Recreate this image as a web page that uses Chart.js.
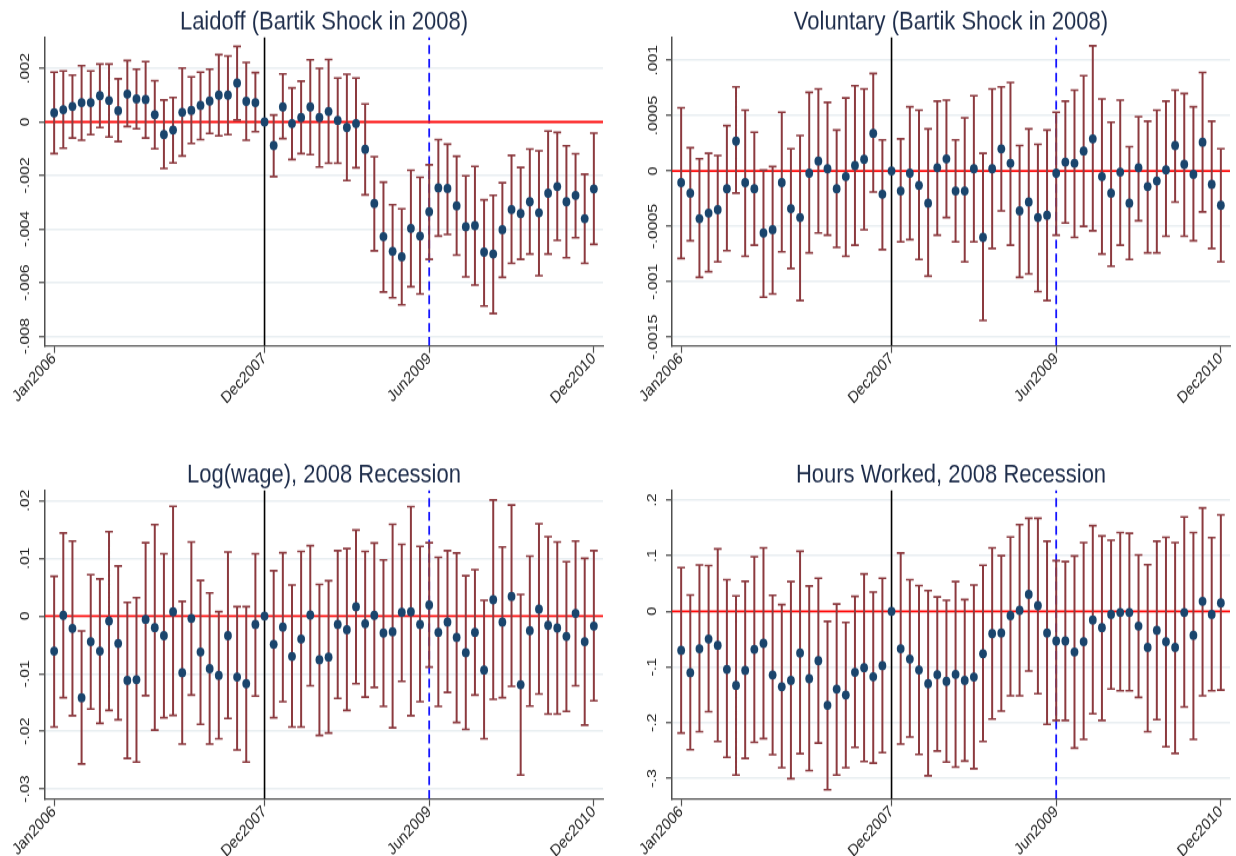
<!DOCTYPE html>
<html>
<head>
<meta charset="utf-8">
<title>Monthly event-study estimates, 2006-2010</title>
<script src="https://cdn.jsdelivr.net/npm/chart.js@4.4.1/dist/chart.umd.min.js"></script>
<style>
  html, body { margin: 0; padding: 0; background: #ffffff; }
  #page { position: relative; width: 1236px; height: 856px; overflow: hidden; background: #ffffff; }
  #page canvas { position: absolute; }
</style>
</head>
<body>
<div id="page">
  <canvas id="laidoff"></canvas>
  <canvas id="voluntary"></canvas>
  <canvas id="wage"></canvas>
  <canvas id="hours"></canvas>
</div>
<script>
// ---- months: 0 = Jan2006 ... 59 = Dec2010 (Dec2007 is the omitted base month) ----
const months = Array.from({ length: 60 }, (_, i) => i);
const xTickMonths = [0, 23, 41, 59];
const xTickLabels = ['Jan2006', 'Dec2007', 'Jun2009', 'Dec2010'];
const recessionStartMonth = 23;   // Dec2007
const recessionEndMonth = 41;     // Jun2009
const baselineValue = 0;

// ---- Laidoff (Bartik shock in 2008) ----
const laidoffEst = [
  0.00034, 0.00046, 0.00058, 0.00072, 0.00072, 0.00098, 0.0008, 0.00042, 0.00104, 0.00086, 0.00084, 0.00027,
  -0.00047, -0.0003, 0.00036, 0.00043, 0.00062, 0.00078, 0.001, 0.001, 0.00145, 0.00077, 0.00072, 0,
  -0.00088, 0.00056, -0.00006, 0.00017, 0.00056, 0.00017, 0.00039, 0.00006, -0.00021, -0.00006, -0.00102, -0.00304,
  -0.00428, -0.00483, -0.00503, -0.00397, -0.00426, -0.00335, -0.00246, -0.00248, -0.00313, -0.00391, -0.00387, -0.00486,
  -0.00493, -0.00402, -0.00327, -0.00342, -0.00298, -0.00339, -0.00266, -0.00241, -0.00298, -0.00274, -0.00361, -0.0025
];
const laidoffHi = [
  0.00186, 0.0019, 0.00175, 0.0021, 0.0019, 0.00216, 0.00216, 0.00161, 0.00229, 0.00197, 0.00225, 0.00154,
  0.00082, 0.00091, 0.00201, 0.00168, 0.00186, 0.00197, 0.00251, 0.00246, 0.00282, 0.00222, 0.00184, null,
  0.00026, 0.00179, 0.00127, 0.00152, 0.00232, 0.002, 0.00233, 0.00164, 0.00178, 0.00164, 0.00067, -0.0013,
  -0.00225, -0.00309, -0.00324, -0.0018, -0.00207, -0.0016, -0.00066, -0.00083, -0.00128, -0.00201, -0.00166, -0.00291,
  -0.00274, -0.00227, -0.00125, -0.0017, -0.00101, -0.00108, -0.00034, -0.00039, -0.00089, -0.00119, -0.00195, -0.00042
];
const laidoffLo = [
  -0.00118, -0.00098, -0.0006, -0.00068, -0.00047, -0.00021, -0.00056, -0.00073, -0.00017, -0.00025, -0.0006, -0.001,
  -0.00174, -0.00153, -0.00127, -0.0008, -0.00066, -0.00043, -0.00052, -0.00047, 0.00007, -0.00068, -0.00036, null,
  -0.00204, -0.00062, -0.0014, -0.00118, -0.00122, -0.00168, -0.00154, -0.00154, -0.00219, -0.00171, -0.00272, -0.00481,
  -0.00635, -0.00656, -0.00683, -0.00615, -0.00642, -0.00513, -0.00426, -0.0042, -0.00497, -0.00578, -0.00609, -0.00687,
  -0.00715, -0.0058, -0.00528, -0.00513, -0.00493, -0.00574, -0.00493, -0.00442, -0.00507, -0.00432, -0.00528, -0.00457
];
const laidoffTicks = [-0.008, -0.006, -0.004, -0.002, 0, 0.002];

// ---- Voluntary separations (Bartik shock in 2008) ----
const voluntaryEst = [
  -0.000105, -0.0002, -0.00043, -0.00038, -0.00035, -0.00016, 0.00027, -0.000105, -0.00016, -0.00056, -0.00053, -0.000105,
  -0.00034, -0.00042, -0.00002, 0.00009, 0.00002, -0.00016, -0.00005, 0.00005, 0.000105, 0.00034, -0.00021, 0,
  -0.00018, -0.00002, -0.00013, -0.00029, 0.00003, 0.00011, -0.00018, -0.00018, 0.00002, -0.0006, 0.00002, 0.0002,
  0.00007, -0.00036, -0.00028, -0.00042, -0.0004, -0.00002, 0.00008, 0.00007, 0.00018, 0.00029, -0.00005, -0.0002,
  -0.00001, -0.00029, 0.00003, -0.00014, -0.00009, 0.00001, 0.00023, 0.00006, -0.00003, 0.00026, -0.00012, -0.00031
];
const voluntaryHi = [
  0.00057, 0.00021, 0.00011, 0.00016, 0.00014, 0.00041, 0.00076, 0.00055, 0.00035, 0.00001, 0.00004, 0.00053,
  0.0002, 0.00032, 0.00071, 0.00074, 0.00062, 0.00037, 0.00066, 0.00077, 0.00074, 0.00088, 0.00028, null,
  0.00029, 0.00058, 0.00055, 0.00038, 0.00063, 0.00064, 0.00028, 0.00048, 0.00068, 0.00016, 0.00074, 0.00076,
  0.0008, 0.00023, 0.00038, 0.00024, 0.00037, 0.00053, 0.00063, 0.00073, 0.00086, 0.00113, 0.00065, 0.00044,
  0.00064, 0.00022, 0.00049, 0.00045, 0.00055, 0.00063, 0.00073, 0.0007, 0.00058, 0.00089, 0.00045, 0.0002
];
const voluntaryLo = [
  -0.00079, -0.00063, -0.00096, -0.00091, -0.00082, -0.00072, -0.0002, -0.00077, -0.00067, -0.00114, -0.00111, -0.00073,
  -0.00088, -0.00117, -0.00074, -0.00056, -0.00058, -0.00069, -0.00077, -0.00067, -0.00053, -0.00019, -0.00071, null,
  -0.00064, -0.00062, -0.0008, -0.00095, -0.00058, -0.00042, -0.00064, -0.00082, -0.00064, -0.00135, -0.0007, -0.00036,
  -0.00067, -0.00096, -0.00093, -0.00109, -0.00117, -0.00058, -0.00047, -0.0006, -0.0005, -0.00054, -0.00075, -0.00086,
  -0.00067, -0.0008, -0.00045, -0.00074, -0.00074, -0.00059, -0.00028, -0.00059, -0.00063, -0.00037, -0.0007, -0.00082
];
const voluntaryTicks = [-0.0015, -0.001, -0.0005, 0, 0.0005, 0.001];

// ---- Log(wage), 2008 recession ----
const wageEst = [
  -0.00607, 0.00012, -0.00214, -0.01416, -0.00445, -0.00607, -0.00087, -0.00474, -0.01116, -0.01104, -0.00058, -0.00202,
  -0.00341, 0.00075, -0.00983, -0.0004, -0.00624, -0.00913, -0.01029, -0.00341, -0.01058, -0.01173, -0.00145, 0,
  -0.00491, -0.00191, -0.00699, -0.00399, 0.00017, -0.00757, -0.00711, -0.00145, -0.00237, 0.00162, -0.00133, 0.00012,
  -0.00295, -0.00272, 0.00064, 0.00075, -0.00145, 0.00191, -0.00283, -0.00104, -0.0037, -0.00636, -0.00283, -0.00936,
  0.00283, -0.00104, 0.00341, -0.01191, -0.00254, 0.00121, -0.00162, -0.00208, -0.00353, 0.00046, -0.00445, -0.00173
];
const wageHi = [
  0.00688, 0.0144, 0.013, -0.0026, 0.00717, 0.00642, 0.01462, 0.00867, 0.00237, 0.00318, 0.01272, 0.01584,
  0.01081, 0.01902, 0.00254, 0.01283, 0.00618, 0.00399, 0.00075, 0.0111, 0.00162, 0.00162, 0.01081, null,
  0.00786, 0.01098, 0.00538, 0.01121, 0.0122, 0.00549, 0.00613, 0.01133, 0.01168, 0.01491, 0.01121, 0.01266,
  0.00971, 0.01589, 0.01243, 0.01896, 0.01208, 0.01272, 0.01017, 0.01133, 0.01092, 0.00699, 0.00803, 0.00272,
  0.02011, 0.01196, 0.01925, 0.00376, 0.0104, 0.01601, 0.01376, 0.01283, 0.00942, 0.013, 0.01, 0.01133
];
const wageLo = [
  -0.01925, -0.01416, -0.01728, -0.02566, -0.01613, -0.01861, -0.01636, -0.01798, -0.02468, -0.02532, -0.01381, -0.01977,
  -0.01763, -0.01722, -0.0222, -0.0137, -0.01879, -0.0222, -0.02127, -0.01775, -0.02324, -0.02532, -0.01387, null,
  -0.01763, -0.01485, -0.01925, -0.01925, -0.01208, -0.02069, -0.02029, -0.01428, -0.01636, -0.01173, -0.01405, -0.01237,
  -0.01566, -0.01936, -0.01133, -0.01728, -0.01485, -0.00884, -0.01566, -0.01324, -0.01844, -0.01965, -0.0137, -0.02127,
  -0.01445, -0.01416, -0.0122, -0.02757, -0.01561, -0.01353, -0.01699, -0.01699, -0.01653, -0.01208, -0.0189, -0.01468
];
const wageTicks = [-0.03, -0.02, -0.01, 0, 0.01, 0.02];

// ---- Hours worked, 2008 recession ----
const hoursEst = [
  -0.0701, -0.1102, -0.0671, -0.0497, -0.0611, -0.1042, -0.133, -0.106, -0.0683, -0.0575, -0.1144, -0.1354,
  -0.124, -0.0749, -0.121, -0.0887, -0.1689, -0.1396, -0.1503, -0.1096, -0.1012, -0.1174, -0.0976, 0,
  -0.0671, -0.0857, -0.1054, -0.13, -0.1138, -0.1258, -0.1132, -0.124, -0.118, -0.0761, -0.0401, -0.0389,
  -0.0078, 0.0018, 0.0305, 0.0102, -0.0389, -0.0533, -0.0533, -0.0731, -0.0545, -0.0156, -0.0294, -0.0054,
  -0.002, -0.002, -0.0264, -0.0647, -0.0341, -0.0545, -0.0647, -0.002, -0.0431, 0.018, -0.0054, 0.015
];
const hoursHi = [
  0.0785, 0.0294, 0.0833, 0.0821, 0.112, 0.0569, 0.0276, 0.0539, 0.0982, 0.1138, 0.0288, 0.012,
  0.0533, 0.1078, 0.0455, 0.0593, -0.018, 0.0132, -0.0198, 0.027, 0.0671, 0.0347, 0.0593, null,
  0.1048, 0.0569, 0.0461, 0.0371, 0.0258, 0.0198, 0.0533, 0.021, 0.0473, 0.0827, 0.1138, 0.1,
  0.1336, 0.1557, 0.1671, 0.1671, 0.1258, 0.091, 0.0893, 0.0994, 0.1234, 0.1539, 0.1354, 0.1276,
  0.1414, 0.1402, 0.1012, 0.0839, 0.1258, 0.133, 0.1234, 0.1695, 0.1414, 0.1857, 0.1324, 0.1731
];
const hoursLo = [
  -0.2186, -0.2486, -0.2162, -0.1803, -0.2336, -0.2624, -0.2941, -0.2642, -0.2354, -0.2288, -0.2576, -0.2809,
  -0.3007, -0.2558, -0.2863, -0.2366, -0.3205, -0.2941, -0.2809, -0.2444, -0.2696, -0.2726, -0.254, null,
  -0.2384, -0.2258, -0.257, -0.2953, -0.251, -0.2708, -0.2798, -0.269, -0.2828, -0.2336, -0.1935, -0.1791,
  -0.1516, -0.1516, -0.1072, -0.148, -0.2031, -0.1959, -0.1959, -0.2456, -0.23, -0.1839, -0.1959, -0.1396,
  -0.1426, -0.1426, -0.1546, -0.2162, -0.1947, -0.2432, -0.2552, -0.1719, -0.23, -0.1516, -0.1426, -0.1414
];
const hoursTicks = [-0.3, -0.2, -0.1, 0, 0.1, 0.2];

// ---- styling ----
const FONT = '"Liberation Sans", Arial, Helvetica, sans-serif';
const TITLE_COLOR = '#1e2d4b';
const TEXT_COLOR = '#1e1e1e';
const AXIS_COLOR = '#505050';
const GRID_COLOR = '#e8eef1';
const CI_COLOR = '#8c3a3f';
const DOT_COLOR = '#1a456d';
const ZERO_COLOR = '#ff0a0a';
const START_COLOR = '#000000';
const END_COLOR = '#1414ff';

// Canvases are drawn at a reduced height and displayed taller, giving the
// tall, narrow lettering and steeper label angle of the figure.
const STRETCH = 1.1784;
const PLOT_TOP = 37 / STRETCH;      // drawing units inside each canvas
const PLOT_BOTTOM = 346 / STRETCH;

const panels = [
  { id: 'laidoff', title: 'Laidoff (Bartik Shock in 2008)', est: laidoffEst, lo: laidoffLo, hi: laidoffHi,
    ticks: laidoffTicks, yMin: -0.00836, yMax: 0.00317,
    left: 0, top: 0, width: 620, innerH: 382, plotLeft: 45, plotRight: 603, labelPad: -1.5 },
  { id: 'voluntary', title: 'Voluntary (Bartik Shock in 2008)', est: voluntaryEst, lo: voluntaryLo, hi: voluntaryHi,
    ticks: voluntaryTicks, yMin: -0.00158, yMax: 0.00121,
    left: 626, top: 0, width: 610, innerH: 382, plotLeft: 46, plotRight: 604, labelPad: -6.5 },
  { id: 'wage', title: 'Log(wage), 2008 Recession', est: wageEst, lo: wageLo, hi: wageHi,
    ticks: wageTicks, yMin: -0.03173, yMax: 0.02185,
    left: 0, top: 453, width: 620, innerH: 342, plotLeft: 45, plotRight: 603, labelPad: 2.5 },
  { id: 'hours', title: 'Hours Worked, 2008 Recession', est: hoursEst, lo: hoursLo, hi: hoursHi,
    ticks: hoursTicks, yMin: -0.3372, yMax: 0.2179,
    left: 626, top: 453, width: 610, innerH: 342, plotLeft: 46, plotRight: 604, labelPad: 5.5 }
];

// Stata-style tick text: .002, -.004, 0
function stataNumber(v) {
  if (v === 0) return '0';
  return String(v).replace(/^(-?)0\./, '$1.');
}

function ciPoints(lo, hi) {
  const pts = [];
  months.forEach(m => {
    if (lo[m] == null || hi[m] == null) return;
    pts.push({ x: m, y: lo[m] }, { x: m, y: hi[m] }, { x: m, y: null });
  });
  return pts;
}

function drawPanel(p) {
  const canvas = document.getElementById(p.id);
  canvas.width = p.width;
  canvas.height = p.innerH;
  canvas.style.left = p.left + 'px';
  canvas.style.top = p.top + 'px';
  canvas.style.width = p.width + 'px';
  canvas.style.height = (p.innerH * STRETCH) + 'px';

  const titleSize = 22;
  const titlePadTop = 8;
  const titlePadBottom = PLOT_TOP - titlePadTop - titleSize;

  new Chart(canvas, {
    data: {
      datasets: [
        {
          type: 'scatter', label: 'estimate',
          data: months.map(m => ({ x: m, y: p.est[m] })),
          pointRadius: 3.9, pointHoverRadius: 3.9, pointBackgroundColor: DOT_COLOR,
          pointBorderWidth: 0, order: 0
        },
        {
          type: 'line', label: '95% CI',
          data: ciPoints(p.lo, p.hi),
          borderColor: CI_COLOR, borderWidth: 2, spanGaps: false, tension: 0,
          pointStyle: 'line', pointRadius: 3.9, pointHoverRadius: 3.9,
          pointBorderColor: CI_COLOR, pointBorderWidth: 1.6, order: 1
        },
        {
          type: 'line', label: 'zero',
          data: [{ x: -1, y: baselineValue }, { x: 60, y: baselineValue }],
          borderColor: ZERO_COLOR, borderWidth: 1.8, pointRadius: 0, order: 2
        },
        {
          type: 'line', label: 'Dec2007',
          data: [{ x: recessionStartMonth, y: p.yMin }, { x: recessionStartMonth, y: p.yMax }],
          borderColor: START_COLOR, borderWidth: 1.6, pointRadius: 0, order: 3
        },
        {
          type: 'line', label: 'Jun2009',
          data: [{ x: recessionEndMonth, y: p.yMin }, { x: recessionEndMonth, y: p.yMax }],
          borderColor: END_COLOR, borderWidth: 1.8, borderDash: [7.6, 4.2], pointRadius: 0, order: 3
        }
      ]
    },
    options: {
      responsive: false,
      animation: false,
      events: [],
      layout: { padding: { left: 0, top: 0, bottom: 0, right: p.width - p.plotRight } },
      plugins: {
        legend: { display: false },
        tooltip: { enabled: false },
        title: {
          display: true, text: p.title, fullSize: false, align: 'center', color: TITLE_COLOR,
          font: { family: FONT, size: titleSize, weight: 'normal', lineHeight: 1 },
          padding: { top: titlePadTop, bottom: titlePadBottom }
        }
      },
      scales: {
        x: {
          type: 'linear', min: -1, max: 60,
          afterBuildTicks: s => { s.ticks = xTickMonths.map(v => ({ value: v })); },
          afterFit: s => { s.height = p.innerH - PLOT_BOTTOM; s.paddingLeft = 0; s.paddingRight = 0; },
          ticks: {
            autoSkip: false, minRotation: 43, maxRotation: 43, padding: -3.5, color: TEXT_COLOR,
            font: { family: FONT, size: 14 },
            callback: (v, i) => xTickLabels[i]
          },
          grid: { drawOnChartArea: false, drawTicks: true, tickLength: 6, tickColor: AXIS_COLOR, tickWidth: 1.2 },
          border: { display: true, color: AXIS_COLOR, width: 1.2 }
        },
        y: {
          type: 'linear', min: p.yMin, max: p.yMax,
          afterBuildTicks: s => { s.ticks = p.ticks.map(v => ({ value: v })); },
          afterFit: s => { s.width = p.plotLeft; s.paddingTop = 0; s.paddingBottom = 0; },
          ticks: {
            autoSkip: false, minRotation: 90, maxRotation: 90, crossAlign: 'center',
            padding: p.labelPad, color: TEXT_COLOR, font: { family: FONT, size: 13.5 },
            callback: v => stataNumber(v)
          },
          grid: { color: GRID_COLOR, lineWidth: 1.5, drawTicks: true, tickLength: 6, tickColor: AXIS_COLOR, tickWidth: 1.3 },
          border: { display: true, color: AXIS_COLOR, width: 1.5 }
        }
      }
    }
  });
}

panels.forEach(drawPanel);
</script>
</body>
</html>
